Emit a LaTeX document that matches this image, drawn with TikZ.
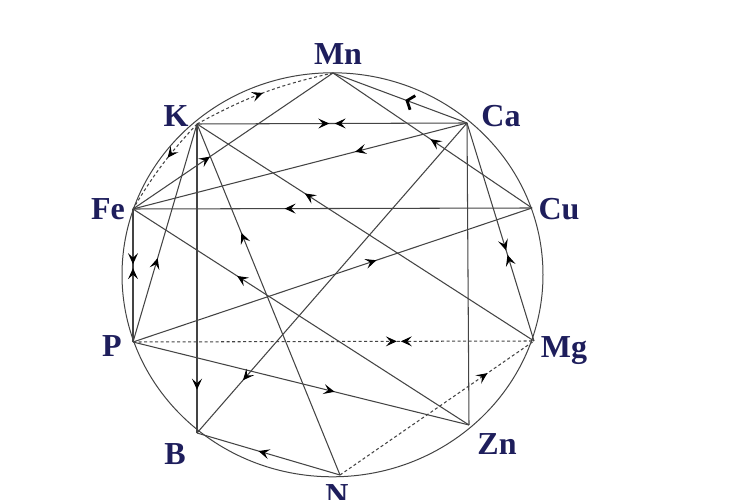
\documentclass[tikz,border=0pt]{standalone}
\usepackage{fontspec}
\setmainfont{Liberation Serif}
\usetikzlibrary{arrows.meta,decorations.markings}
\definecolor{lab}{HTML}{1E1E5C}
\definecolor{ln}{HTML}{444444}
\tikzset{
  tipa/.tip={Stealth[length=11pt,width=10pt,inset=4.5pt,color=black]},
  tipb/.tip={Straight Barb[length=6pt,width=15pt,line width=2.8pt,color=black]},
  edge/.style={draw=ln, line width=1.05pt},
  dline/.style={edge, dash pattern=on 3pt off 2.5pt},
  circ/.style={draw=ln, line width=1pt},
  arr/.style={postaction={decorate,
      decoration={markings, mark=at position #1 with {\arrow{tipa}}}}},
  rarr/.style={postaction={decorate,
      decoration={markings, mark=at position #1 with {\arrowreversed{tipa}}}}},
  barb/.style={postaction={decorate,
      decoration={markings, mark=at position #1 with {\arrow{tipb}}}}},
  lbl/.style={text=lab, font=\fontsize{32}{38}\selectfont\bfseries, anchor=base, inner sep=0pt}
}
\begin{document}
\begin{tikzpicture}[x=1pt,y=1pt]
\useasboundingbox (0,0) rectangle (750,500);
\fill[white] (0,0) rectangle (750,500);
\draw[circ] (332.5,225.2) ellipse [x radius=210.5, y radius=202];
\coordinate (Mn) at (333,427);
\coordinate (K)  at (197,376);
\coordinate (Ca) at (467,377);
\coordinate (Fe) at (133,291);
\coordinate (Cu) at (532,292);
\coordinate (P)  at (133,158);
\coordinate (Mg) at (534,159);
\coordinate (B)  at (197,67);
\coordinate (Zn) at (469,75);
\coordinate (N)  at (340,25);
% connectors
\draw[dline, arr=0.5] (K) to[bend left=8] (Mn);
\draw[dline, arr=0.42] (K) to[bend right=6] (Fe);
\draw[edge, arr=0.49, rarr=0.51] (K) -- (Ca);
\draw[edge, arr=0.335] (Ca) -- (Fe);
\draw[edge, barb=0.46] (Ca) -- (Mn);
\draw[edge, arr=0.51] (Cu) -- (Mn);
\draw[edge, arr=0.385] (Fe) -- (Mn);
\draw[edge, arr=0.86] (K) -- (B);
\draw[edge, arr=0.69] (N) -- (K);
\draw[edge, arr=0.385] (P) -- (K);
\draw[edge, arr=0.68] (Mg) -- (K);
\draw[edge, arr=0.415, rarr=0.445] (Fe) -- (P);
\draw[edge, arr=0.69] (Zn) -- (Fe);
\draw[edge, arr=0.62] (Cu) -- (Fe);
\draw[edge, arr=0.61] (P) -- (Cu);
\draw[dline, arr=0.658, rarr=0.668] (P) -- (Mg);
\draw[edge, arr=0.60] (P) -- (Zn);
\draw[dline, arr=0.76] (N) -- (Mg);
\draw[edge, arr=0.57] (N) -- (B);
\draw[edge, arr=0.83] (Ca) -- (B);
\draw[edge] (Ca) -- (Zn);
\draw[edge, arr=0.585, rarr=0.605] (Ca) -- (Mg);
% labels
\node[lbl] (lMn) at (338,435) {Mn};
\node[lbl] (lK)  at (176,373) {K};
\node[lbl] (lCa) at (501,373) {Ca};
\node[lbl] (lFe) at (108,280) {Fe};
\node[lbl] (lCu) at (559,280) {Cu};
\node[lbl] (lP)  at (112,143) {P};
\node[lbl] (lMg) at (564,142) {Mg};
\node[lbl] (lB)  at (175,35) {B};
\node[lbl] (lZn) at (497,45) {Zn};
\node[lbl] (lN)  at (337,-6) {N};
\end{tikzpicture}
\end{document}
